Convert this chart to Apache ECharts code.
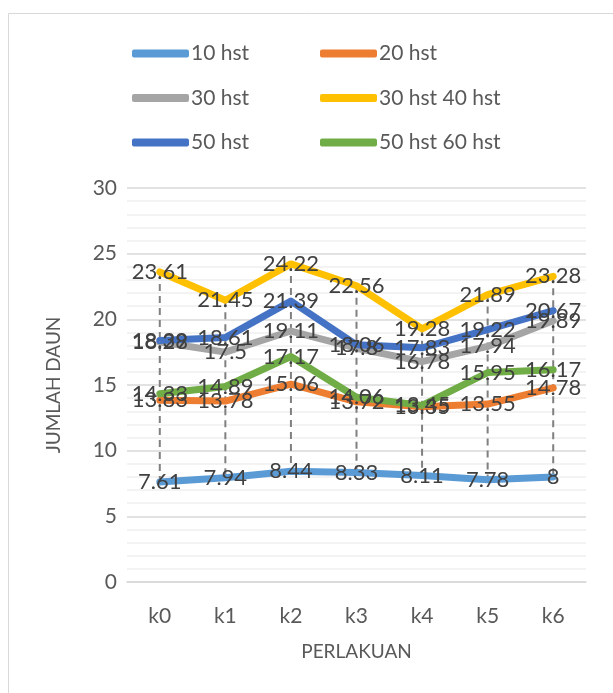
<!DOCTYPE html>
<html><head><meta charset="utf-8">
<script src="https://cdn.jsdelivr.net/npm/echarts@6/dist/echarts.min.js"></script>
<style>html,body{margin:0;padding:0;background:#fff}#c{width:613px;height:693px}</style>
</head><body><div id="c"></div>
<script>
const categories = ['k0','k1','k2','k3','k4','k5','k6'];
const s10 = [7.61, 7.94, 8.44, 8.33, 8.11, 7.78, 8];
const s20 = [13.83, 13.78, 15.06, 13.72, 13.35, 13.55, 14.78];
const s30 = [18.28, 17.5, 19.11, 17.8, 16.78, 17.94, 19.89];
const s3040 = [23.61, 21.45, 24.22, 22.56, 19.28, 21.89, 23.28];
const s50 = [18.39, 18.61, 21.39, 18.06, 17.83, 19.22, 20.67];
const s5060 = [14.33, 14.89, 17.17, 14.06, 13.45, 15.95, 16.17];
const seriesNames = ['10 hst','20 hst','30 hst','30 hst 40 hst','50 hst','50 hst 60 hst'];
const colors = ['#5B9BD5','#ED7D31','#A5A5A5','#FFC000','#4472C4','#70AD47'];
const allData = [s10, s20, s30, s3040, s50, s5060];
const yTicks = [0, 5, 10, 15, 20, 25, 30];

const FONT = 'Lato';
const hiLo = categories.map((c, i) => {
  const vals = allData.map(a => a[i]);
  return [i, Math.max(...vals), Math.min(...vals)];
});

const lineSeries = seriesNames.map((n, k) => ({
  name: n, type: 'line', data: allData[k],
  symbol: 'circle', symbolSize: 1, showSymbol: true,
  itemStyle: {color: colors[k]},
  lineStyle: {width: 7, color: colors[k], cap: 'round', join: 'round'},
  label: {show: true, position: 'inside', color: '#404040', fontSize: 22, fontFamily: FONT},
  z: 3
}));

const chart = echarts.init(document.getElementById('c'));
chart.setOption({
  animation: false,
  color: colors,
  graphic: [{type: 'rect', shape: {x: 8.5, y: 13.5, width: 640, height: 720}, style: {fill: 'none', stroke: '#d9d9d9', lineWidth: 1}, z: -10}],
  legend: [
    {orient: 'vertical', left: 127, top: 38, itemWidth: 57, itemHeight: 8, itemGap: 23.5, icon: 'roundRect',
     data: [seriesNames[0], seriesNames[2], seriesNames[4]],
     textStyle: {fontSize: 21, fontFamily: FONT, color: '#595959', lineHeight: 21, padding: [0,0,0,-3]}},
    {orient: 'vertical', left: 315, top: 38, itemWidth: 57, itemHeight: 8, itemGap: 23.5, icon: 'roundRect',
     data: [seriesNames[1], seriesNames[3], seriesNames[5]],
     textStyle: {fontSize: 21, fontFamily: FONT, color: '#595959', lineHeight: 21, padding: [0,0,0,-3]}}
  ],
  grid: {left: 127, right: 27, top: 188, bottom: 111},
  xAxis: {
    type: 'category', data: categories, boundaryGap: true,
    name: 'PERLAKUAN', nameLocation: 'middle', nameGap: 60,
    nameTextStyle: {fontSize: 19, fontFamily: FONT, color: '#595959'},
    axisLine: {show: true, lineStyle: {color: '#d9d9d9', width: 1.5}},
    axisTick: {show: false},
    axisLabel: {fontSize: 21, fontFamily: FONT, color: '#595959', margin: 24}
  },
  yAxis: {
    type: 'value', min: yTicks[0], max: yTicks[yTicks.length-1], interval: 5,
    name: 'JUMLAH DAUN', nameLocation: 'middle', nameGap: 64,
    nameTextStyle: {fontSize: 19, fontFamily: FONT, color: '#595959'},
    axisLine: {show: false}, axisTick: {show: false},
    axisLabel: {fontSize: 21, fontFamily: FONT, color: '#595959', margin: 10},
    splitLine: {show: true, lineStyle: {color: '#d9d9d9', width: 1.5}},
    minorTick: {show: false, splitNumber: 5},
    minorSplitLine: {show: true, lineStyle: {color: '#efefef', width: 1.5}}
  },
  series: [
    {
      type: 'custom', name: 'hilo', data: hiLo, z: 1, silent: true,
      renderItem: function(params, api) {
        const p1 = api.coord([api.value(0), api.value(1)]);
        const p2 = api.coord([api.value(0), api.value(2)]);
        return {type: 'line', shape: {x1: p1[0], y1: p1[1], x2: p2[0], y2: p2[1]},
          style: {stroke: '#808080', lineWidth: 2, lineDash: [7, 5]}};
      }
    },
    ...lineSeries
  ]
});
</script></body></html>
